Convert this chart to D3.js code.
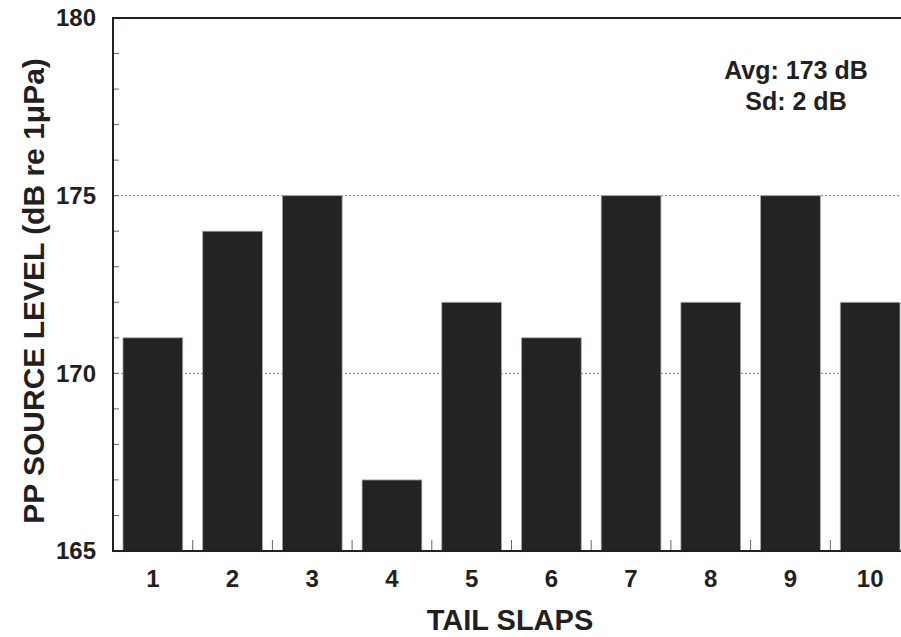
<!DOCTYPE html>
<html>
<head>
<meta charset="utf-8">
<script src="https://cdn.jsdelivr.net/npm/d3@7"></script>
<style>
  html, body { margin: 0; padding: 0; background: #fff; }
  svg { display: block; }
  text { font-family: "Liberation Sans", Arial, sans-serif; font-weight: bold; fill: #231f20; }
</style>
</head>
<body>
<script>
// Peak-to-peak source level for each tail slap
const slaps = ["1", "2", "3", "4", "5", "6", "7", "8", "9", "10"];
const levels = [171, 174, 175, 167, 172, 171, 175, 172, 175, 172];
const yTicks = [165, 170, 175, 180];
const minorTicks = d3.range(165, 181, 1);
const gridLevels = [170, 175];
const statLines = ["Avg: 173 dB", "Sd: 2 dB"];

const W = 901, H = 637;
const plotLeft = 113, plotTop = 18, plotBottom = 551, plotRight = 910;

const svg = d3.select("body").append("svg").attr("width", W).attr("height", H);

const x = d3.scaleBand().domain(slaps).range([plotLeft, plotRight])
  .paddingInner(0.25).paddingOuter(0.125);
const y = d3.scaleLinear().domain([165, 180]).range([plotBottom, plotTop]);

// dotted reference lines
svg.append("g").selectAll("line").data(gridLevels).join("line")
  .attr("x1", plotLeft).attr("x2", plotRight)
  .attr("y1", d => y(d)).attr("y2", d => y(d))
  .attr("stroke", "#777").attr("stroke-width", 1)
  .attr("stroke-dasharray", "2,2");

// bars
svg.append("g").selectAll("rect").data(levels).join("rect")
  .attr("x", (d, i) => x(slaps[i]))
  .attr("width", x.bandwidth())
  .attr("y", d => y(d))
  .attr("height", d => y(165) - y(d))
  .attr("fill", "#252223")
  .attr("stroke", "#aaa").attr("stroke-width", 0.8);

// minor ticks on the value axis (inward)
svg.append("g").selectAll("line").data(minorTicks).join("line")
  .attr("x1", plotLeft).attr("x2", plotLeft + 6)
  .attr("y1", d => y(d)).attr("y2", d => y(d))
  .attr("stroke", "#666").attr("stroke-width", 1);

// category separators on the bottom axis (inward)
const step = x.step();
const seps = d3.range(1, slaps.length + 1).map(k => x(slaps[0]) - x.paddingOuter() * step + k * step);
svg.append("g").selectAll("line").data(seps).join("line")
  .attr("x1", d => d).attr("x2", d => d)
  .attr("y1", plotBottom).attr("y2", plotBottom - 11)
  .attr("stroke", "#666").attr("stroke-width", 1);

// frame: left, top and bottom axis lines
svg.append("path")
  .attr("d", `M${plotRight},${plotTop}H${plotLeft}V${plotBottom}H${plotRight}`)
  .attr("fill", "none").attr("stroke", "#231f20").attr("stroke-width", 2);

// value labels
svg.append("g").selectAll("text").data(yTicks).join("text")
  .attr("x", 96).attr("y", d => y(d)).attr("dy", "0.35em")
  .attr("text-anchor", "end").attr("font-size", 24)
  .text(d => d);

// category labels
svg.append("g").selectAll("text").data(slaps).join("text")
  .attr("x", d => x(d) + x.bandwidth() / 2).attr("y", 587)
  .attr("text-anchor", "middle").attr("font-size", 24)
  .text(d => d);

// axis titles
svg.append("text")
  .attr("x", 510).attr("y", 630)
  .attr("text-anchor", "middle").attr("font-size", 29)
  .text("TAIL SLAPS");

svg.append("text")
  .attr("transform", `translate(44,${(62 + 520) / 2}) rotate(-90)`)
  .attr("text-anchor", "middle").attr("font-size", 30)
  .text("PP SOURCE LEVEL (dB re 1\u03BCPa)");

// summary statistics
svg.append("g").selectAll("text").data(statLines).join("text")
  .attr("x", 796).attr("y", (d, i) => 79 + i * 31)
  .attr("text-anchor", "middle").attr("font-size", 25)
  .text(d => d);
</script>
</body>
</html>
